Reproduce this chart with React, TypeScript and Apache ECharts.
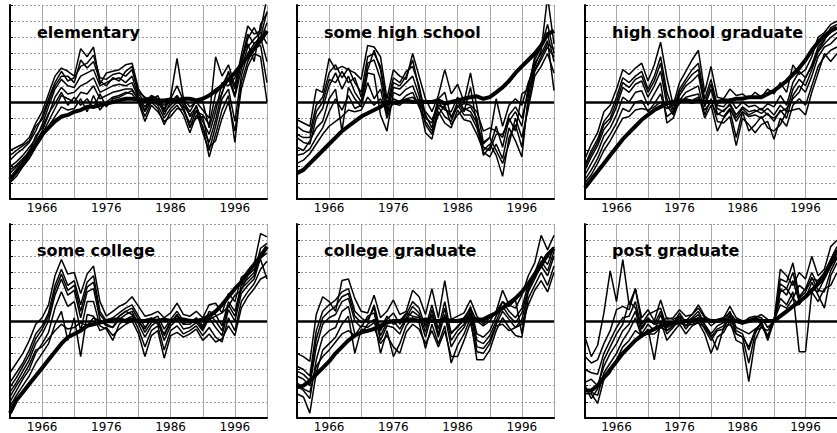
import React, { useEffect, useRef } from "react";
import * as echarts from "echarts";

const YEARS = [
  1961, 1962, 1963, 1964, 1965, 1966, 1967, 1968, 1969, 1970,
  1971, 1972, 1973, 1974, 1975, 1976, 1977, 1978, 1979, 1980,
  1981, 1982, 1983, 1984, 1985, 1986, 1987, 1988, 1989, 1990,
  1991, 1992, 1993, 1994, 1995, 1996, 1997, 1998, 1999, 2000, 2001,
];
const LABEL_YEARS = [1966, 1976, 1986, 1996];
const GRID_YEARS = [1961, 1966, 1971, 1976, 1981, 1986, 1991, 1996, 2001];
const TITLES = [
  "elementary",
  "some high school",
  "high school graduate",
  "some college",
  "college graduate",
  "post graduate",
];

// ---------- elementary ----------
const elemThick = [-4.8,-4.3,-3.8,-3.2,-2.6,-2.0,-1.6,-1.2,-0.9,-0.8,-0.6,-0.5,-0.3,-0.3,-0.2,-0.1,0.0,0.1,0.2,0.2,0.15,0.1,0.2,0.1,0.1,0.15,0.1,0.2,0.2,0.1,0.2,0.4,0.7,1.0,1.4,1.8,2.3,2.8,3.3,3.8,4.4];
const elemThin = [
  [-3.0,-2.8,-2.6,-2.2,-1.3,-0.6,0.5,1.6,2.1,1.9,1.6,3.3,2.8,3.4,1.1,1.8,1.9,2.0,2.3,2.4,0.8,0.2,0.3,-0.1,-0.4,0.3,2.7,0.2,-0.3,0.0,-0.5,-1.0,2.8,1.6,2.3,1.0,2.9,4.7,4.2,4.4,6.5],
  [-3.6,-3.2,-2.9,-2.5,-1.8,-0.9,0.2,1.2,1.9,1.3,1.5,2.2,2.4,2.9,1.5,1.4,1.7,1.8,1.6,2.0,0.5,0.0,0.4,0.2,-0.8,0.0,0.4,-0.2,-0.8,-0.3,-1.2,-2.0,-0.6,1.2,1.0,1.5,2.3,3.9,4.6,3.8,4.9],
  [-4.0,-3.7,-3.3,-2.8,-2.3,-1.4,-0.3,0.8,1.4,1.0,0.9,1.6,1.8,2.0,1.0,1.2,1.4,1.5,1.2,1.6,0.3,-0.3,0.3,0.0,-0.6,-0.2,0.2,-0.5,-1.3,-0.2,-1.6,-2.5,-1.1,0.6,1.5,0.3,2.0,3.4,3.9,4.3,3.6],
  [-4.4,-4.0,-3.6,-3.0,-2.5,-1.8,-0.8,0.3,0.9,0.5,0.6,1.0,1.2,1.5,0.6,0.8,1.0,1.1,1.0,1.2,0.2,-0.6,0.1,-0.2,-1.0,-0.4,0.0,-0.3,-1.6,-0.5,-1.9,-3.0,-1.5,0.2,0.8,-1.2,1.6,3.0,3.6,4.0,2.5],
  [-4.7,-4.3,-3.9,-3.3,-2.7,-2.0,-1.2,-0.4,0.4,0.2,0.0,0.6,0.5,1.0,0.2,0.4,0.6,0.7,0.8,0.8,0.1,-0.9,0.0,-0.4,-1.4,-0.6,-0.2,-0.8,-1.9,-0.8,-1.5,-3.4,-2.0,-0.5,0.4,-2.5,1.2,2.5,3.3,3.5,1.2],
  [-5.0,-4.6,-4.0,-3.5,-2.8,-2.2,-1.5,-0.9,-0.3,-0.5,-0.4,0.2,-0.6,0.4,-0.5,0.0,0.3,0.4,0.6,0.5,0.0,-1.2,-0.2,-0.6,-1.2,-0.9,-0.4,-0.5,-1.5,-1.0,-0.9,-2.8,-2.4,-1.0,0.0,-1.8,0.8,2.2,3.0,2.8,0.0],
  [-4.2,-3.9,-3.5,-3.1,-2.1,-1.6,-0.7,-0.1,0.6,-0.2,0.3,-0.2,0.2,-0.4,0.5,-0.3,0.2,0.3,0.5,0.7,0.2,-0.5,0.3,0.1,-0.2,0.1,0.3,0.0,-0.6,0.1,0.0,-1.6,-0.2,0.5,1.9,0.8,2.7,3.6,2.5,4.8,5.5],
  [-3.3,-3.0,-2.7,-2.4,-1.5,-1.1,0.0,1.0,1.6,1.6,1.2,2.6,2.1,2.5,1.3,1.0,1.5,1.3,1.9,2.2,0.6,0.3,0.1,0.4,-0.5,0.2,1.0,0.1,-0.9,-0.6,-0.8,-1.4,0.5,1.0,1.8,0.4,2.5,4.2,3.6,4.0,5.6],
];

// ---------- some high school ----------
const shsThick = [-4.4,-4.2,-3.8,-3.4,-3.0,-2.6,-2.2,-1.8,-1.5,-1.2,-0.9,-0.7,-0.5,-0.3,0.0,-0.05,0.0,0.1,0.0,0.05,0.0,0.0,0.1,-0.1,0.0,0.1,0.2,0.3,0.35,0.2,0.3,0.6,0.9,1.3,1.8,2.2,2.6,3.0,3.5,4.2,4.4];
const shsThin = [
  [-1.1,-1.3,-1.5,0.8,0.6,2.7,2.0,2.2,2.0,1.8,1.4,3.5,3.4,2.8,0.2,2.0,1.6,1.4,3.0,1.6,0.2,-0.6,0.4,2.0,0.5,1.1,0.0,1.8,-0.3,-2.5,-2.2,0.2,-1.5,-0.2,0.2,-0.2,1.2,2.2,3.2,6.5,3.6],
  [-1.5,-1.8,-1.9,-0.2,0.3,1.8,2.3,1.5,2.1,1.2,0.6,2.8,3.0,2.2,-0.2,1.5,1.2,1.9,2.2,1.0,-0.8,-1.6,0.0,-0.5,-0.6,0.3,-0.5,-0.3,-1.0,-3.3,-2.8,-1.5,-2.8,-1.0,-1.8,0.5,0.8,2.8,3.6,4.2,2.5],
  [-2.2,-2.5,-2.6,-1.0,-0.4,1.0,1.8,0.8,1.6,0.6,0.0,2.4,2.6,1.4,-0.8,0.9,0.8,1.2,1.6,0.4,-1.4,-2.0,-0.3,-0.9,-1.2,-0.2,-0.8,-0.8,-1.6,-3.1,-3.4,-2.6,-3.5,-1.6,-2.4,-3.4,0.4,2.4,3.0,3.8,0.7],
  [-2.8,-3.0,-2.4,-1.6,-1.2,0.2,0.8,-1.8,0.9,0.2,-0.3,1.8,1.7,-0.8,-1.8,0.6,0.4,0.8,1.0,0.0,-1.9,-2.3,-0.6,-1.3,-1.6,-0.5,-1.1,-1.2,-2.0,-3.0,-2.6,-3.3,-4.6,-2.2,-1.4,-2.8,0.0,1.9,2.6,3.4,2.8],
  [-3.3,-3.2,-2.9,-2.2,-1.6,-0.6,0.2,-0.5,0.4,-0.4,-0.2,1.2,0.2,0.8,-1.0,0.2,0.0,0.4,0.6,-0.3,-1.2,-1.8,-0.8,-0.2,-1.4,-0.8,-0.4,-0.6,-1.3,-2.6,-2.2,-3.0,-3.8,-2.6,-1.0,-2.2,-0.4,1.6,2.2,3.0,1.8],
  [-3.8,-3.6,-3.2,-2.6,-2.0,-1.5,-1.2,-0.9,-0.5,-0.6,-0.5,0.3,-0.2,0.2,-0.6,-0.1,-0.2,0.2,0.3,-0.1,-0.6,-1.1,-0.2,-0.4,-0.9,-0.3,-0.1,-0.2,-0.6,-1.8,-1.6,-1.8,-2.2,-0.8,-0.3,-1.0,0.6,2.0,2.8,3.6,3.3],
  [-2.0,-2.2,-2.2,-0.6,0.0,1.4,1.2,1.9,1.2,1.5,0.3,2.0,3.2,2.0,-0.5,1.2,1.0,1.6,2.6,0.8,-1.0,-1.3,0.2,0.6,-1.0,0.0,-0.6,0.9,-1.4,-2.8,-3.0,-2.0,-2.0,-1.2,-0.6,-1.5,1.0,2.6,3.4,4.8,3.0],
];

// ---------- high school graduate ----------
const hsgThick = [-5.3,-4.8,-4.3,-3.8,-3.3,-2.8,-2.3,-1.9,-1.5,-1.1,-0.8,-0.5,-0.3,-0.1,0.0,0.1,0.1,0.0,0.1,0.0,0.0,0.0,0.1,0.1,0.2,0.2,0.3,0.3,0.3,0.5,0.7,1.0,1.3,1.7,2.1,2.6,3.2,3.7,4.1,4.4,4.6];
const hsgThin = [
  [-3.5,-2.6,-1.9,-0.6,-0.2,0.8,2.0,1.7,2.1,2.4,1.3,2.3,3.7,1.5,-0.2,1.2,1.9,2.6,3.2,0.6,2.2,0.3,0.2,0.8,0.4,0.5,0.2,0.6,0.3,0.8,0.5,1.2,0.6,2.3,1.7,2.0,2.8,4.0,4.3,4.8,5.0],
  [-3.9,-3.0,-2.3,-1.2,-0.7,0.3,1.5,1.2,1.6,1.9,0.8,1.6,2.8,0.6,-0.5,0.8,1.4,2.0,2.4,0.2,1.4,-0.2,-0.3,0.2,-0.4,0.0,-0.3,-0.2,-0.5,-0.1,-0.3,0.4,-0.2,1.2,1.9,1.5,2.3,3.4,3.9,4.3,4.6],
  [-4.2,-3.4,-2.7,-1.7,-1.2,-0.3,0.9,0.6,1.1,1.3,0.3,1.0,1.9,-0.2,-0.8,0.4,1.0,1.3,1.7,-0.3,0.8,-0.7,-0.9,-0.4,-1.2,-0.6,-0.9,-0.8,-1.0,-0.7,-1.2,-0.5,-1.0,0.4,1.0,0.6,1.6,2.8,3.4,3.6,4.0],
  [-4.5,-3.8,-3.1,-2.1,-1.6,-0.8,0.3,0.0,0.6,0.7,-0.2,0.5,1.2,-1.3,-1.0,0.1,0.6,0.8,1.0,-0.8,0.2,-1.2,-1.3,-0.9,-2.7,-1.0,-1.4,-1.9,-1.4,-1.2,-2.3,-1.0,-1.5,-0.2,0.2,-0.2,1.0,2.2,2.8,3.2,3.4],
  [-4.8,-4.2,-3.5,-2.6,-2.0,-1.3,-0.4,-0.6,0.0,0.1,-0.6,-0.1,0.5,-0.9,-0.6,-0.1,0.3,0.4,0.5,-1.0,-0.2,-1.8,-1.0,-0.5,-2.2,-0.6,-1.8,-1.4,-0.9,-1.6,-1.8,-1.4,-0.6,-0.5,-0.4,-0.8,0.6,1.8,3.0,2.5,3.0],
  [-5.0,-4.5,-3.8,-3.0,-2.4,-1.7,-1.0,-0.9,-0.5,-0.4,-0.5,-0.3,0.0,-0.4,-0.2,0.0,0.2,0.1,0.3,-0.5,0.0,-0.8,-0.5,-0.2,-1.0,-0.4,-0.8,-0.6,-0.4,-0.8,-1.0,-0.6,-0.4,0.2,0.6,1.5,2.2,3.2,3.8,4.6,4.8],
  [-4.0,-3.2,-2.5,-1.4,-1.0,0.0,1.2,0.9,1.4,1.6,0.6,1.3,2.4,0.2,-0.7,0.6,1.2,1.7,2.0,-0.1,1.1,-0.4,-0.6,-0.1,-0.8,-0.3,-0.6,-0.5,-0.7,-0.4,-0.8,-0.2,-0.6,0.8,1.4,1.0,2.0,3.1,3.6,4.0,4.3],
];

// ---------- some college ----------
const scThick = [-5.7,-4.9,-4.4,-3.9,-3.4,-2.9,-2.4,-1.9,-1.4,-1.0,-0.8,-0.6,-0.3,-0.2,-0.1,0.0,0.1,0.1,0.0,0.1,0.0,0.0,0.1,0.0,0.1,0.0,0.1,0.1,0.0,0.0,0.1,0.3,0.6,1.0,1.5,2.0,2.4,3.0,3.5,4.0,4.6];
const scThin = [
  [-3.2,-2.6,-2.0,-1.2,-0.2,0.2,1.0,2.8,3.8,2.9,3.0,1.7,2.9,3.4,1.2,0.3,0.6,0.9,1.1,1.5,0.9,0.3,0.4,0.6,0.2,0.5,1.1,0.4,0.3,0.6,0.2,1.0,1.1,0.5,1.7,1.2,2.7,3.0,3.5,5.4,5.2],
  [-3.8,-3.2,-2.6,-1.8,-0.8,-0.3,0.5,2.2,3.2,2.2,2.5,1.0,2.4,2.8,0.6,0.0,0.2,0.5,0.8,1.0,0.3,-0.4,0.1,0.3,-0.5,0.1,0.6,0.0,-0.1,0.2,-0.3,0.6,0.4,-0.3,1.2,0.6,2.2,2.6,3.0,4.5,4.8],
  [-4.4,-3.8,-3.1,-2.4,-1.4,-0.8,0.0,1.6,2.6,1.6,1.9,0.2,1.8,2.0,0.1,-0.3,-0.4,0.1,0.4,0.6,-0.2,-1.0,-0.3,0.0,-1.2,-0.3,0.1,-0.5,-0.4,-0.1,-0.6,0.2,-0.4,-0.9,0.7,0.0,1.7,2.2,2.6,3.9,4.2],
  [-5.0,-4.3,-3.6,-3.0,-2.0,-1.4,-0.7,0.8,1.8,0.9,1.2,-0.6,1.2,1.2,-0.3,-0.5,-1.2,-0.2,0.1,0.3,-0.5,-1.6,-0.6,-0.3,-1.8,-0.6,-0.3,-0.8,-0.6,-0.3,-0.9,-0.4,-1.0,-1.3,0.2,-0.6,1.2,1.8,2.3,3.2,3.7],
  [-5.3,-4.6,-4.0,-3.4,-2.6,-2.0,-1.4,-0.2,0.6,-1.2,0.2,-2.2,0.4,0.3,-0.6,-0.4,-0.9,-0.5,-0.2,0.0,-0.8,-2.2,-0.9,-0.6,-2.3,-0.9,-0.7,-1.0,-0.8,-0.5,-1.2,-0.8,-1.3,-1.1,-0.3,-0.9,0.8,1.5,2.0,2.6,2.8],
  [-4.7,-4.0,-3.4,-2.7,-1.8,-1.6,-1.1,-0.6,-0.2,-0.5,-0.4,-0.1,-0.3,0.2,0.0,-0.2,-0.4,0.3,0.6,0.4,-0.1,-0.5,0.2,-0.2,-0.8,0.0,0.3,-0.2,0.1,0.0,-0.4,0.1,0.3,0.5,0.9,1.6,1.9,2.8,3.2,3.8,2.6],
  [-4.1,-3.5,-2.8,-2.1,-1.1,-0.5,0.3,1.9,2.9,1.9,2.2,0.6,2.1,2.4,0.4,-0.1,-0.1,0.3,0.6,0.8,0.1,-0.7,-0.1,0.1,-0.9,-0.1,0.4,-0.2,-0.2,0.1,-0.5,0.4,0.0,-0.6,1.0,0.3,2.0,2.4,2.8,4.2,4.5],
];

// ---------- college graduate ----------
const cgThick = [-4.1,-4.0,-3.7,-3.3,-2.9,-2.5,-2.0,-1.6,-1.2,-0.9,-0.7,-0.6,-0.5,-0.3,-0.1,0.0,0.0,0.1,0.1,0.0,0.1,0.0,0.0,0.1,0.0,0.0,0.1,0.2,0.1,0.1,0.3,0.5,0.8,1.1,1.4,1.8,2.3,2.9,3.5,4.1,4.5];
const cgThin = [
  [-2.0,-2.2,-2.5,0.4,1.5,1.2,0.6,2.5,2.6,1.4,0.6,0.5,1.6,0.2,0.6,1.3,0.4,0.6,1.9,1.5,0.4,2.0,0.2,2.5,0.1,0.3,0.5,1.3,0.3,-0.2,0.2,0.6,1.9,1.0,0.8,1.6,2.8,3.6,5.3,4.4,5.3],
  [-2.8,-3.0,-3.4,-0.6,0.6,1.0,1.3,1.8,2.0,0.6,0.2,-0.1,1.0,-0.6,0.1,0.5,-0.2,0.4,1.2,0.8,-0.4,1.0,-0.5,1.2,-0.8,-0.3,0.0,0.9,-0.8,-1.0,-0.6,0.3,1.2,0.6,0.2,0.8,2.3,3.0,4.0,3.5,4.6],
  [-3.4,-3.6,-4.0,-1.6,-0.2,0.2,0.4,1.2,1.4,0.0,-0.4,0.3,0.5,-1.2,-0.3,-0.4,-0.8,0.1,0.6,0.3,-1.0,0.4,-1.0,0.4,-1.6,-0.9,-0.4,0.5,-1.6,-1.7,-1.2,-0.2,0.6,0.1,-0.4,0.1,1.8,2.6,3.4,2.8,4.0],
  [-4.0,-4.3,-4.8,-2.4,-1.0,-0.6,-0.4,0.6,0.9,-0.8,-0.8,-0.2,0.1,-2.0,-0.6,-2.2,-1.4,-0.3,0.2,-0.1,-1.7,-0.2,-1.4,-0.3,-2.6,-1.5,-0.8,0.2,-2.4,-2.4,-1.8,-0.6,0.2,-0.4,-0.9,-1.0,1.4,2.2,3.0,2.2,3.4],
  [-4.5,-4.7,-5.7,-3.2,-1.8,-1.4,-1.0,-0.2,0.3,-2.0,-0.5,-0.6,-0.4,-1.4,-0.9,-1.6,-2.0,-0.7,-0.2,-0.5,-1.4,-0.6,-1.6,-0.6,-2.2,-2.2,-1.2,-0.1,-1.9,-2.0,-1.4,-0.3,-0.2,-0.6,-0.4,-0.2,1.0,1.9,2.5,1.8,3.0],
  [-3.8,-4.2,-4.4,-2.8,-2.2,-1.8,-1.3,-0.8,-0.6,-0.9,-0.3,-0.4,-0.1,-0.5,0.3,-0.2,0.0,0.5,0.3,0.2,-0.2,0.3,-0.1,0.2,-0.7,-0.4,0.2,0.8,0.0,-0.3,0.0,0.6,1.2,0.9,1.3,-0.8,2.0,2.8,3.3,4.0,3.8],
  [-3.1,-3.3,-3.7,-1.1,0.2,0.6,0.9,1.5,1.7,0.3,-0.1,0.1,0.8,-0.9,-0.1,0.0,-0.5,0.2,0.9,0.5,-0.7,0.7,-0.8,0.8,-1.2,-0.6,-0.2,0.7,-1.2,-1.4,-0.9,0.0,0.9,0.3,-0.1,0.5,2.0,2.8,3.7,3.1,4.3],
];

// ---------- post graduate ----------
const pgThick = [-4.3,-4.3,-4.0,-3.5,-3.0,-2.5,-2.0,-1.6,-1.2,-0.9,-0.7,-0.5,-0.3,-0.2,-0.1,-0.1,0.0,0.0,0.1,0.1,0.0,0.0,0.1,0.0,0.0,-0.1,0.0,0.1,0.0,0.0,0.0,0.3,0.6,0.9,1.2,1.5,1.9,2.3,2.8,3.6,4.4];
const pgThin = [
  [-1.0,-2.2,-1.5,0.5,3.1,1.2,3.8,1.0,2.0,0.2,0.7,0.0,1.3,0.1,0.2,0.7,0.3,0.4,1.0,0.3,0.0,0.1,0.2,0.9,0.2,0.0,0.1,0.2,0.4,0.1,0.0,3.2,2.8,2.2,3.0,2.6,4.0,2.8,3.2,4.6,5.0],
  [-2.2,-2.6,-2.4,-1.4,-0.6,0.7,0.9,0.7,2.0,-0.2,0.4,0.6,0.8,-0.4,-0.2,0.5,-0.1,0.2,0.6,-0.2,-0.8,-0.3,-0.1,0.6,-0.4,-0.6,-0.8,-0.5,-0.2,-0.9,0.0,2.6,2.4,3.6,1.5,2.0,3.0,2.2,2.6,3.4,4.2],
  [-3.8,-3.6,-4.0,-2.8,-2.0,-1.4,-0.6,-0.2,0.6,-0.8,-0.2,-0.6,0.4,-0.8,-0.4,0.2,-0.5,0.0,0.2,-0.5,-1.2,-0.6,-0.5,0.3,-0.8,-1.0,-2.6,-0.8,0.0,-1.2,0.0,2.0,1.6,2.5,1.2,1.4,2.4,1.6,0.8,2.8,3.6],
  [-4.2,-4.4,-4.6,-3.2,-2.6,-2.0,-1.2,-0.6,0.2,-1.0,-0.5,-2.4,0.0,-1.2,-0.7,-0.2,-0.8,-0.3,-0.1,-0.8,-2.0,-1.0,-0.7,0.0,-1.2,-1.4,-3.75,-1.2,-0.3,-1.0,0.0,1.4,1.0,1.8,-1.9,-1.9,1.8,1.2,2.0,2.2,3.0],
  [-4.5,-4.5,-5.1,-3.6,-3.2,-2.4,-1.6,-1.2,-0.6,-0.9,-0.8,-0.8,-0.4,-0.6,-0.3,-0.1,-0.3,-0.2,-0.1,-0.4,-0.9,-1.8,-0.4,-0.2,-0.8,-1.0,-1.6,-0.6,-0.4,-0.6,0.0,1.0,0.8,1.4,1.0,1.6,2.0,1.8,2.6,3.4,4.0],
  [-4.0,-4.8,-4.2,-2.4,-1.6,-0.8,-0.2,1.2,0.8,-0.4,0.2,-0.2,-0.1,0.2,0.1,0.3,0.0,0.4,0.8,0.2,-0.3,0.0,0.2,0.5,0.0,-0.2,0.2,0.3,0.2,-0.4,0.0,1.8,2.0,1.4,2.2,1.9,2.6,2.5,3.0,3.8,4.6],
  [-3.0,-3.2,-3.3,-2.0,-1.2,-0.4,0.2,0.3,1.2,-0.5,0.1,-0.2,0.6,-0.6,-0.3,0.3,-0.3,0.1,0.4,-0.3,-1.0,-0.5,-0.3,0.4,-0.6,-0.8,-1.8,-0.6,-0.1,-1.0,0.0,2.3,2.0,3.0,1.4,1.8,2.7,1.9,1.8,3.1,3.9],
];

const PANEL_THICK = [elemThick, shsThick, hsgThick, scThick, cgThick, pgThick];
const PANEL_THIN = [elemThin, shsThin, hsgThin, scThin, cgThin, pgThin];

const COL_LEFT = [10, 297, 585];
const ROW_TOP = [5, 224];
const PANEL_W = 257;
const PANEL_H = 194;

export default function App() {
  const ref = useRef<HTMLDivElement>(null);

  useEffect(() => {
    if (!ref.current) return;
    const chart = echarts.init(ref.current, null, { renderer: "svg" });

    const grids: any[] = [];
    const xAxes: any[] = [];
    const yAxes: any[] = [];
    const series: any[] = [];
    const titles: any[] = [];

    for (let i = 0; i < 6; i++) {
      const r = Math.floor(i / 3);
      const c = i % 3;
      grids.push({
        left: COL_LEFT[c],
        top: ROW_TOP[r],
        width: PANEL_W,
        height: PANEL_H,
        containLabel: false,
      });
      xAxes.push({
        type: "category",
        gridIndex: i,
        data: YEARS,
        boundaryGap: false,
        axisLine: { show: true, onZero: false, lineStyle: { color: "#000", width: 2 } },
        axisTick: { show: false },
        axisLabel: {
          interval: (idx: number, val: any) => LABEL_YEARS.indexOf(Number(val)) >= 0,
          color: "#000",
          fontFamily: "DejaVu Sans",
          fontSize: 12,
          margin: 3,
        },
        splitLine: {
          show: true,
          interval: (idx: number, val: any) => GRID_YEARS.indexOf(Number(val)) >= 0,
          lineStyle: { color: "#a8a8a8", width: 1, type: "solid" },
        },
      });
      yAxes.push({
        type: "value",
        gridIndex: i,
        min: -6,
        max: 6,
        interval: 1,
        axisLine: { show: true, onZero: false, lineStyle: { color: "#000", width: 2 } },
        axisTick: { show: true, inside: true, length: 3, lineStyle: { color: "#000", width: 1 } },
        axisLabel: { show: false },
        splitLine: {
          show: true,
          lineStyle: { color: "#9a9a9a", width: 1, type: [2, 2] },
        },
      });
      PANEL_THIN[i].forEach((d) => {
        series.push({
          type: "line",
          xAxisIndex: i,
          yAxisIndex: i,
          data: d,
          symbol: "none",
          silent: true,
          z: 2,
          lineStyle: { color: "#000", width: 1.5 },
        });
      });
      series.push({
        type: "line",
        xAxisIndex: i,
        yAxisIndex: i,
        data: PANEL_THICK[i],
        symbol: "none",
        silent: true,
        z: 3,
        lineStyle: { color: "#000", width: 4 },
        markLine: {
          silent: true,
          symbol: ["none", "none"],
          label: { show: false },
          lineStyle: { color: "#000", width: 2.5, type: "solid" },
          data: [{ yAxis: 0 }],
        },
      });
      titles.push({
        text: TITLES[i],
        left: COL_LEFT[c] + 27,
        top: r === 0 ? 24 : 242,
        padding: 0,
        textStyle: {
          fontFamily: "DejaVu Sans",
          fontWeight: "bold",
          fontSize: 16,
          color: "#000",
        },
      });
    }

    chart.setOption({
      animation: false,
      backgroundColor: "#fff",
      title: titles,
      grid: grids,
      xAxis: xAxes,
      yAxis: yAxes,
      series,
    });

    return () => {
      chart.dispose();
    };
  }, []);

  return (
    <div
      ref={ref}
      style={{ position: "absolute", left: 0, top: 0, width: 837, height: 433 }}
    />
  );
}
